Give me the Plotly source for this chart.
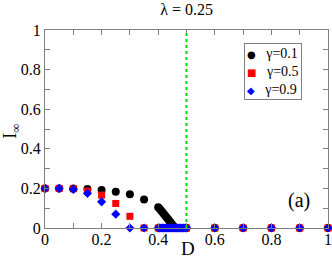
import plotly.graph_objects as go

# gamma = 0.1
x_g01 = [0, 0.05, 0.1, 0.15, 0.2, 0.25, 0.3, 0.35,
         0.40, 0.405, 0.41, 0.415, 0.42, 0.425, 0.43, 0.435, 0.44, 0.445, 0.45, 0.455,
         0.46, 0.465, 0.47, 0.475, 0.48, 0.485, 0.49, 0.495, 0.5,
         0.6, 0.7, 0.8, 0.9, 1.0]
y_g01 = [0.2, 0.2, 0.199, 0.197, 0.192, 0.183, 0.170, 0.144,
         0.105, 0.097, 0.089, 0.080, 0.071, 0.062, 0.053, 0.044, 0.035, 0.026, 0.017, 0.008,
         0.002, 0, 0, 0, 0, 0, 0, 0, 0,
         0, 0, 0, 0, 0]
# gamma = 0.5
x_g05 = [0, 0.05, 0.1, 0.15, 0.2, 0.25, 0.3, 0.35,
         0.40, 0.405, 0.41, 0.415, 0.42, 0.425, 0.43, 0.435, 0.44, 0.445, 0.45, 0.455,
         0.46, 0.465, 0.47, 0.475, 0.48, 0.485, 0.49, 0.495, 0.5,
         0.6, 0.7, 0.8, 0.9, 1.0]
y_g05 = [0.2, 0.2, 0.198, 0.186, 0.166, 0.124, 0.059, 0,
         0, 0, 0, 0, 0, 0, 0, 0, 0, 0, 0, 0,
         0, 0, 0, 0, 0, 0, 0, 0, 0,
         0, 0, 0, 0, 0]
# gamma = 0.9
x_g09 = x_g05
y_g09 = [0.2, 0.2, 0.195, 0.175, 0.132, 0.070, 0, 0,
         0, 0, 0, 0, 0, 0, 0, 0, 0, 0, 0, 0,
         0, 0, 0, 0, 0, 0, 0, 0, 0,
         0, 0, 0, 0, 0]

series_names = ["γ=0.1", "γ=0.5", "γ=0.9"]
D_crit = 0.5
FONT = "Liberation Serif, 'Times New Roman', 'DejaVu Serif', serif"

styles = [("circle", 8, "black", "●"), ("square", 7, "#ff0000", "■"), ("diamond", 7, "#0000ff", "◆")]
series = [(x_g01, y_g01), (x_g05, y_g05), (x_g09, y_g09)]

fig = go.Figure()
for (xs, ys), name, (sym, size, col, _) in zip(series, series_names, styles):
    fig.add_trace(go.Scatter(x=xs, y=ys, mode="markers", name=name,
                             marker=dict(symbol=sym, size=size, color=col),
                             cliponaxis=False, showlegend=False))

fig.add_shape(type="line", xref="x", yref="y", x0=D_crit, x1=D_crit, y0=0, y1=1,
              line=dict(color="#00dd00", width=2, dash="dot"))

axis_common = dict(
    showline=True, linecolor="#808080", linewidth=1, mirror="ticks",
    ticks="inside", ticklen=5, tickcolor="#808080", showgrid=False, zeroline=False,
    tickfont=dict(family=FONT, size=16, color="black"),
    ticklabeloverflow="allow", automargin=False,
    minor=dict(ticks="inside", ticklen=5, dtick=0.1, tickcolor="#808080", showgrid=False),
)
fig.update_xaxes(range=[0, 1], dtick=0.2, tick0=0, tickformat="~g",
                 ticklabelstandoff=-3, **axis_common)
fig.update_yaxes(range=[0, 1], dtick=0.2, tick0=0, tickformat="~g", **axis_common)

# axis titles
fig.add_annotation(text="D", x=0.505, y=-0.106, xref="paper", yref="paper",
                   xanchor="center", yanchor="middle", showarrow=False,
                   font=dict(family=FONT, size=19, color="black"))
fig.add_annotation(text="I<sub>∞</sub>", x=-0.117, y=0.49, xref="paper", yref="paper",
                   xanchor="center", yanchor="middle", showarrow=False, textangle=-90,
                   font=dict(family=FONT, size=18, color="black"))

# panel label
fig.add_annotation(text="(a)", x=0.898, y=0.141, xref="x", yref="y", showarrow=False,
                   font=dict(family=FONT, size=20, color="black"))

# legend box
legend_lines = []
for name, (_, _, col, glyph) in zip(series_names, styles):
    legend_lines.append(
        f"<span style='color:{col};font-family:DejaVu Sans;font-size:10px'>{glyph}</span>&nbsp;&nbsp;&nbsp;{name}")
fig.add_annotation(text="<br>".join(legend_lines), x=0.804, y=0.79, xref="paper", yref="paper",
                   xanchor="center", yanchor="middle", showarrow=False, align="left",
                   bgcolor="white", bordercolor="#808080", borderwidth=1, borderpad=2,
                   font=dict(family=FONT, size=14, color="black"))

fig.update_layout(
    width=332, height=259,
    margin=dict(l=45, r=4, t=30, b=31),
    plot_bgcolor="white", paper_bgcolor="white",
    title=dict(text="λ = 0.25", x=0.562, xanchor="center", y=0.985, yanchor="top",
               font=dict(family=FONT, size=16, color="black")),
    showlegend=False,
)

fig.write_html("out.html", config={"displayModeBar": False},
               post_script="document.body.style.margin='0';")
